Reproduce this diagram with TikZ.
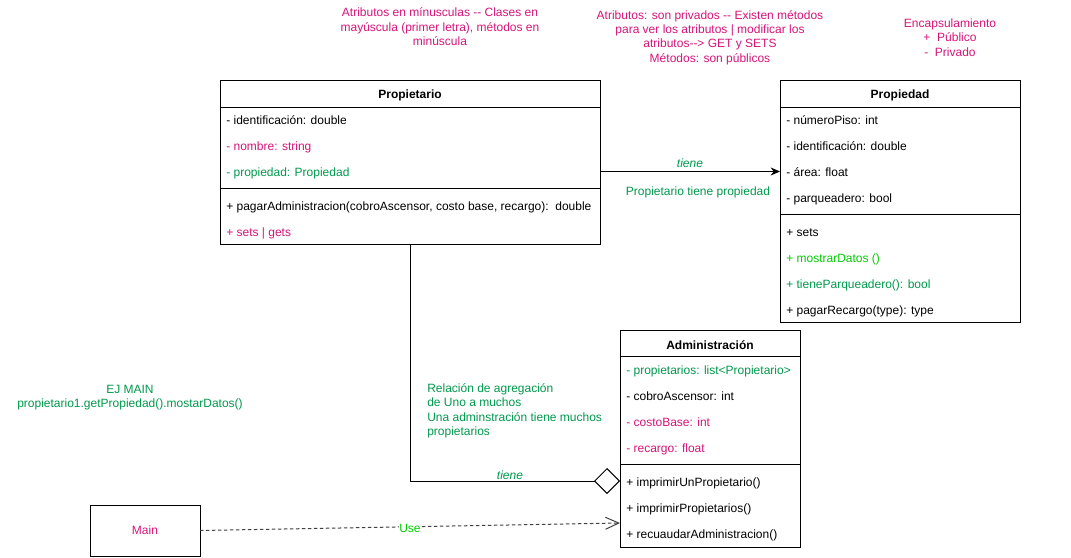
\documentclass[tikz,border=0pt]{standalone}
\usepackage{fontspec}
\setmainfont{Liberation Sans}
\usetikzlibrary{arrows.meta}

\definecolor{rosa}{HTML}{D6157A}
\definecolor{verde}{HTML}{00994D}
\definecolor{verdeclaro}{HTML}{00CC00}

\tikzset{
  clase/.style={draw, line width=0.75pt, inner sep=0pt, outer sep=0pt},
  titulo/.style={inner sep=0pt, yshift=-1.5pt, font=\fontsize{9}{10.8}\selectfont\bfseries},
  fila/.style={anchor=west, inner sep=0pt, text height=9pt, text depth=1pt},
  nota/.style={align=center, inner sep=0pt, yshift=-1.5pt, text=rosa},
  etiqueta/.style={inner sep=0pt, text=verde, text height=9pt, text depth=1pt},
  linea/.style={line width=0.75pt}
}

\begin{document}
\begin{tikzpicture}[x=0.75pt, y=-0.75pt, font=\fontsize{9}{10.8}\selectfont]
  % Fondo y margenes
  \fill[white] (0,0) rectangle (1071,557);
  \useasboundingbox (0,0) rectangle (1071,557);

  % Notas
  \node[nota] (notaNombres) at (440,25) {Atributos en mínusculas -\kern0pt- Clases en\\mayúscula (primer letra), métodos en\\minúscula};
  \node[nota] (notaAtributos) at (710,35.5) {Atributos: son privados -\kern0pt- Existen métodos\\para ver los atributos | modificar los\\atributos-\kern0pt-> GET y SETS\\Métodos: son públicos};
  \node[nota] (notaEncap) at (950,35.5) {Encapsulamiento\\+\ \ Público\\-\ \ Privado};

  % Clase Propietario
  \node[clase, minimum width=285pt, minimum height=123pt] (propietario) at (410,162) {};
  \node[titulo] (propietarioT) at (410,93) {Propietario};
  \draw[linea] (220,107) -- (600,107);
  \node[fila] (p1) at (226,119) {- identificación: double};
  \node[fila, text=rosa] (p2) at (226,145.5) {- nombre: string};
  \node[fila, text=verde] (p3) at (226,171.5) {- propiedad: Propiedad};
  \draw[linea] (220,188) -- (600,188);
  \node[fila] (p4) at (226,205.5) {+ pagarAdministracion(cobroAscensor, costo base, recargo):\ \ double};
  \node[fila, text=rosa] (p5) at (226,231.5) {+ sets | gets};

  % Clase Propiedad
  \node[clase, minimum width=180pt, minimum height=181.5pt] (propiedad) at (900,201) {};
  \node[titulo] (propiedadT) at (900,93) {Propiedad};
  \draw[linea] (780,107) -- (1020,107);
  \node[fila] (d1) at (786,119) {- númeroPiso: int};
  \node[fila] (d2) at (786,145.5) {- identificación: double};
  \node[fila] (d3) at (786,171.5) {- área: float};
  \node[fila] (d4) at (786,197.5) {- parqueadero: bool};
  \draw[linea] (780,214) -- (1020,214);
  \node[fila] (d5) at (786,231.5) {+ sets};
  \node[fila, text=verdeclaro] (d6) at (786,257.5) {+ mostrarDatos ()};
  \node[fila, text=verde] (d7) at (786,283.5) {+ tieneParqueadero(): bool};
  \node[fila] (d8) at (786,309.5) {+ pagarRecargo(type): type};

  % Clase Administracion
  \node[clase, minimum width=135pt, minimum height=162.75pt] (administracion) at (710,438.5) {};
  \node[titulo] (administracionT) at (710,343) {Administración};
  \draw[linea] (620,356) -- (800,356);
  \node[fila, text=verde] (a1) at (626,369.5) {- propietarios: list<Propietario>};
  \node[fila] (a2) at (626,395.5) {- cobroAscensor: int};
  \node[fila, text=rosa] (a3) at (626,421.5) {- costoBase: int};
  \node[fila, text=rosa] (a4) at (626,447.5) {- recargo: float};
  \draw[linea] (620,464) -- (800,464);
  \node[fila] (a5) at (626,481) {+ imprimirUnPropietario()};
  \node[fila] (a6) at (626,507.5) {+ imprimirPropietarios()};
  \node[fila] (a7) at (626,533.5) {+ recuaudarAdministracion()};

  % Main
  \node[clase, minimum width=82.5pt, minimum height=38.25pt, text=rosa] (main) at (145,530.5) {Main};

  % Textos sueltos
  \node[align=center, inner sep=0pt, yshift=-1.5pt, text=verde] (ejMain) at (130,395.5) {EJ MAIN\\propietario1.getPropiedad().mostarDatos()};
  \node[align=left, anchor=west, inner sep=0pt, yshift=-1.5pt, text=verde] (relacion) at (427,409) {Relación de agregación\\de Uno a muchos\\Una adminstración tiene muchos\\propietarios};
  \node[etiqueta] (ptp) at (698,190) {Propietario tiene propiedad};

  % Asociacion Propietario -> Propiedad
  \draw[linea, -{Stealth[length=7pt, width=6pt]}] (p3 -| propietario.east) -- (p3 -| propiedad.west)
    node[midway, etiqueta, yshift=7pt, font=\fontsize{9}{10.8}\selectfont\itshape] {tiene};

  % Agregacion Administracion <>- Propietario
  \draw[linea, {Diamond[open, length=19.5pt, width=19.5pt]}-] (a5 -| administracion.west) -| (propietario.south);
  \node[etiqueta, font=\fontsize{9}{10.8}\selectfont\itshape] (tieneAgr) at (510,474) {tiene};

  % Dependencia Main -> Administracion
  \coordinate (usoFin) at (620,523);
  \draw[line width=0.75pt, black!75, dash pattern=on 2.5pt off 2pt, -{Straight Barb[length=10pt, width=9pt]}] (main.east) -- (usoFin)
    node[midway, fill=white, inner sep=0.5pt, yshift=-1.5pt, text=verdeclaro] {Use};
\end{tikzpicture}
\end{document}
